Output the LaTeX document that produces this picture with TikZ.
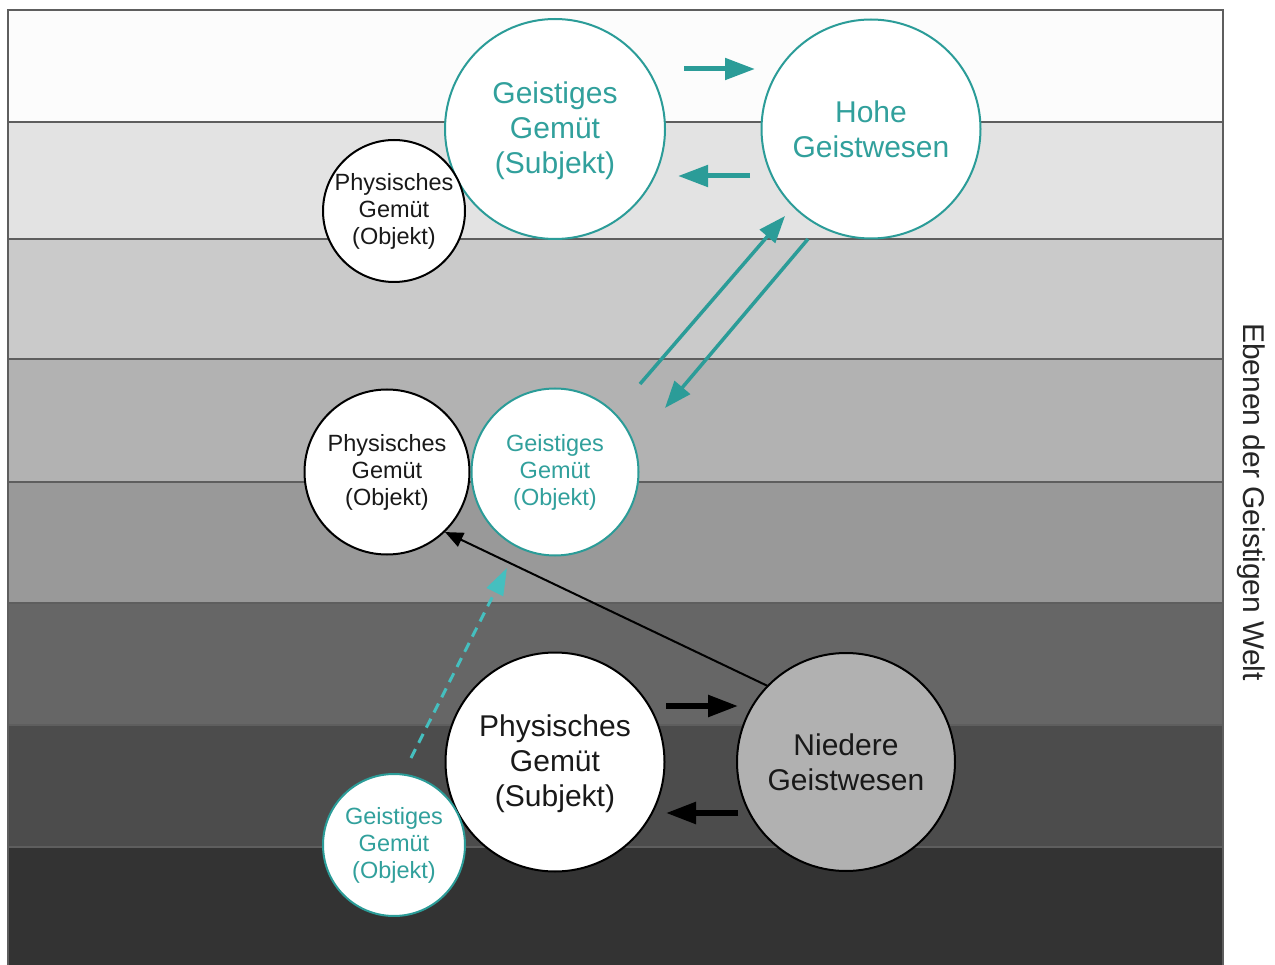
\documentclass[tikz,border=0pt]{standalone}
\usepackage{fontspec}
\setmainfont{Liberation Sans}
\usetikzlibrary{arrows.meta}
\definecolor{tealc}{HTML}{2B9C98}
\definecolor{tealtext}{HTML}{31A09C}
\definecolor{tealdash}{HTML}{45BFBF}
\definecolor{bandA}{HTML}{FCFCFC}
\definecolor{bandB}{HTML}{E3E3E3}
\definecolor{bandC}{HTML}{CACACA}
\definecolor{bandD}{HTML}{B2B2B2}
\definecolor{bandE}{HTML}{999999}
\definecolor{bandF}{HTML}{666666}
\definecolor{bandG}{HTML}{4C4C4C}
\definecolor{bandH}{HTML}{333333}
\definecolor{framec}{HTML}{5E5E5E}
\definecolor{nieder}{HTML}{B1B1B1}
\begin{document}
\begin{tikzpicture}[x=1pt,y=-1pt,
  circ/.style={circle, line width=2pt, fill=white, inner sep=-25pt, align=center},
  tcirc/.style={circ, draw=tealc, text=tealtext},
  kcirc/.style={circ, draw=black, text=black!90},
  bigtxt/.style={font=\fontsize{30}{35}\selectfont},
  smalltxt/.style={font=\fontsize{23.5}{27}\selectfont},
  tarrow/.style={draw=tealc, line width=5pt, -{Triangle[length=30pt,width=21pt]}},
  darrow/.style={draw=tealc, line width=3.5pt, -{Triangle[length=27pt,width=20pt]}},
  karrow/.style={draw=black, line width=5.5pt, -{Triangle[length=30pt,width=21pt]}},
  thinarrow/.style={draw=black, line width=2pt, -{Triangle[length=18pt,width=15pt]}},
  dasharrow/.style={draw=tealdash, line width=3pt, dash pattern=on 10pt off 7pt, -{Triangle[length=27pt,width=18pt]}},
  divider/.style={draw=framec, line width=1.5pt}
]
\useasboundingbox (0,0) rectangle (1275,965);
\fill[white] (0,0) rectangle (1275,965);
% bands
\fill[bandA] (8,10) rectangle (1223,122);
\fill[bandB] (8,122) rectangle (1223,239);
\fill[bandC] (8,239) rectangle (1223,359);
\fill[bandD] (8,359) rectangle (1223,482);
\fill[bandE] (8,482) rectangle (1223,603);
\fill[bandF] (8,603) rectangle (1223,725);
\fill[bandG] (8,725) rectangle (1223,847);
\fill[bandH] (8,847) rectangle (1223,965);
\foreach \yy in {122,239,359,482,603,725,847}
  \draw[divider] (8,\yy) -- (1223,\yy);
\draw[divider] (8,970) -- (8,10) -- (1223,10) -- (1223,970);

% side label
\node[rotate=-90, font=\fontsize{30}{35}\selectfont, text=black!85] (side) at (1251,502) {Ebenen der Geistigen Welt};

% circles
\node[tcirc, bigtxt, minimum size=220pt] (gs) at (555,129) {\strut Geistiges\\Gemüt\\(Subjekt)};
\node[tcirc, bigtxt, minimum size=219pt] (hg) at (871,129) {Hohe\\Geistwesen};
\node[kcirc, smalltxt, minimum size=142pt] (pot) at (394,211) {Physisches\\Gemüt\\(Objekt)};
\node[kcirc, smalltxt, minimum size=165pt] (pom) at (387,472) {Physisches\\Gemüt\\(Objekt)};
\node[tcirc, smalltxt, minimum size=167pt] (gom) at (555,472) {Geistiges\\Gemüt\\(Objekt)};
\node[kcirc, bigtxt, minimum size=219pt] (ps) at (555,762) {\strut Physisches\\Gemüt\\(Subjekt)};
\node[circ, draw=black, fill=nieder, text=black!90, bigtxt, minimum size=218pt] (ng) at (846,762) {Niedere\\Geistwesen};
\node[tcirc, smalltxt, minimum size=142pt] (gob) at (394,845) {Geistiges\\Gemüt\\(Objekt)};

% connector end points
\coordinate (a1s) at (684,69);
\coordinate (a1e) at (755,69);
\coordinate (a2s) at (750,176);
\coordinate (a2e) at (678,176);
\coordinate (d1s) at (640,384);
\coordinate (d1e) at (785,216);
\coordinate (d2s) at (808,239);
\coordinate (d2e) at (665,408);
\coordinate (k1s) at (666,706);
\coordinate (k1e) at (738,706);
\coordinate (k2s) at (738,813);
\coordinate (k2e) at (666,813);
\coordinate (dsS) at (411,758);
\coordinate (dsE) at (507,568);

% arrows
\draw[tarrow] (a1s) -- (a1e);
\draw[tarrow] (a2s) -- (a2e);
\draw[darrow] (d1s) -- (d1e);
\draw[darrow] (d2s) -- (d2e);
\draw[karrow] (k1s) -- (k1e);
\draw[karrow] (k2s) -- (k2e);
\draw[thinarrow] (ng.136) -- (pom.-46);
\draw[dasharrow] (dsS) -- (dsE);
\end{tikzpicture}
\end{document}
